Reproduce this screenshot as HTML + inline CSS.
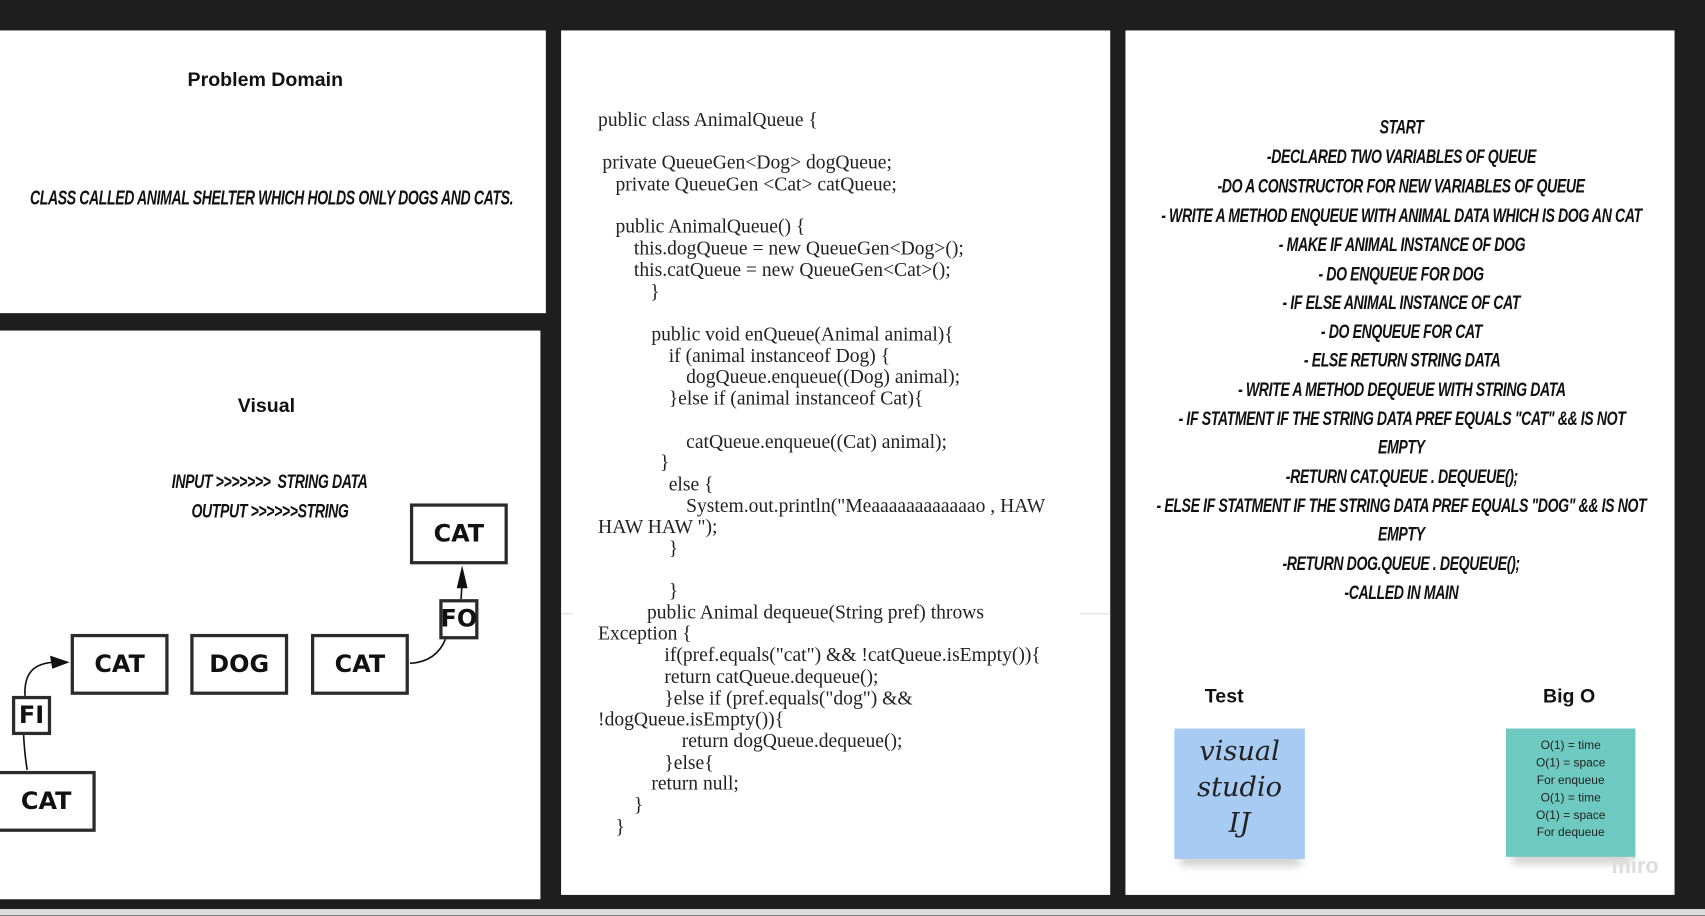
<!DOCTYPE html>
<html><head><meta charset="utf-8">
<style>
html,body{margin:0;padding:0;width:1705px;height:916px;overflow:hidden;background:#1e1e1e;}
#w{position:absolute;left:0;top:0;width:1568px;height:842px;transform:scale(1.08737);transform-origin:0 0;overflow:hidden;}
.p{position:absolute;background:#fff;}
.t{position:absolute;white-space:nowrap;}
.c{position:absolute;white-space:nowrap;font-family:"Liberation Serif",serif;font-size:18px;color:#222;line-height:20px;}
.h{font-family:"Liberation Sans",sans-serif;font-weight:bold;font-size:18px;color:#111;}
.k{font-family:"Liberation Sans",sans-serif;font-style:italic;font-weight:bold;color:#111;text-transform:uppercase;letter-spacing:-0.5px;white-space:nowrap;}
.k span{display:inline-block;transform:scaleX(.72);}
.b{position:absolute;border:3px solid #2b2b2b;box-sizing:border-box;background:#fff;display:flex;align-items:center;justify-content:center;font-family:"DejaVu Sans","Liberation Sans",sans-serif;font-weight:bold;font-size:22px;color:#111;}
.r{position:absolute;left:889px;width:800px;text-align:center;font-size:18px;line-height:20px;}
</style></head><body><div id="w">
<div class="p" style="left:0;top:28px;width:502px;height:260px"></div>
<div class="p" style="left:0;top:304px;width:497px;height:523px"></div>
<div class="p" style="left:516px;top:28px;width:505px;height:795px"></div>
<div class="p" style="left:1035px;top:28px;width:505px;height:795px"></div>
<div style="position:absolute;left:0;top:836px;width:1568px;height:6px;background:#ddd"></div>

<div class="t h" style="left:0;width:488px;text-align:center;top:63px">Problem Domain</div>
<div class="t k" style="left:-250px;width:1000px;text-align:center;top:172px;font-size:19px"><span style="transform:scaleX(.68)">class called Animal shelter which holds only dogs and cats.</span></div>
<div class="t h" style="left:0;width:490px;text-align:center;top:363px">Visual</div>
<div class="t k" style="left:-100px;width:696px;text-align:center;top:433px;font-size:18px"><span>Input &gt;&gt;&gt;&gt;&gt;&gt;&gt;&nbsp; String data</span></div>
<div class="t k" style="left:-100px;width:696px;text-align:center;top:460px;font-size:18px"><span>output &gt;&gt;&gt;&gt;&gt;&gt;String</span></div>

<svg style="position:absolute;left:0;top:0" width="1568" height="842">
<path d="M25 708 C22 690 20 660 22 640" stroke="#111" stroke-width="1.5" fill="none"/>
<path d="M23 640 C22 620 30 610 50 609" stroke="#111" stroke-width="1.5" fill="none"/>
<polygon points="64,609 46,603 48,615" fill="#111"/>
<path d="M377 610 C395 609 405 600 410 587" stroke="#111" stroke-width="1.5" fill="none"/>
<line x1="424" y1="551" x2="425" y2="535" stroke="#111" stroke-width="1.5"/>
<polygon points="425,520 420,541 430,541" fill="#111"/>
</svg>
<div class="b" style="left:377px;top:463px;width:90px;height:56px">CAT</div>
<div class="b" style="left:65px;top:583px;width:90px;height:56px">CAT</div>
<div class="b" style="left:175px;top:583px;width:90px;height:56px">DOG</div>
<div class="b" style="left:286px;top:583px;width:90px;height:56px">CAT</div>
<div class="b" style="left:404px;top:551px;width:36px;height:37px">FO</div>
<div class="b" style="left:11px;top:640px;width:36px;height:36px">FI</div>
<div class="b" style="left:-3px;top:709px;width:91px;height:56px">CAT</div>

<div style="position:absolute;left:516px;top:564px;width:11px;height:1px;background:#ddd"></div>
<div style="position:absolute;left:993px;top:564px;width:28px;height:1px;background:#ddd"></div>
<div class="c" style="left:550px;top:100px">public class AnimalQueue {</div>
<div class="c" style="left:554px;top:139px">private QueueGen&lt;Dog&gt; dogQueue;</div>
<div class="c" style="left:566px;top:159px">private QueueGen &lt;Cat&gt; catQueue;</div>
<div class="c" style="left:566px;top:198px">public AnimalQueue() {</div>
<div class="c" style="left:583px;top:218px">this.dogQueue = new QueueGen&lt;Dog&gt;();</div>
<div class="c" style="left:583px;top:238px">this.catQueue = new QueueGen&lt;Cat&gt;();</div>
<div class="c" style="left:598px;top:258px">}</div>
<div class="c" style="left:599px;top:297px">public void enQueue(Animal animal){</div>
<div class="c" style="left:615px;top:317px">if (animal instanceof Dog) {</div>
<div class="c" style="left:631px;top:336px">dogQueue.enqueue((Dog) animal);</div>
<div class="c" style="left:615px;top:356px">}else if (animal instanceof Cat){</div>
<div class="c" style="left:631px;top:396px">catQueue.enqueue((Cat) animal);</div>
<div class="c" style="left:607px;top:415px">}</div>
<div class="c" style="left:615px;top:435px">else {</div>
<div class="c" style="left:631px;top:455px">System.out.println("Meaaaaaaaaaaaao , HAW</div>
<div class="c" style="left:550px;top:474px">HAW HAW ");</div>
<div class="c" style="left:615px;top:494px">}</div>
<div class="c" style="left:615px;top:533px">}</div>
<div class="c" style="left:595px;top:553px">public Animal dequeue(String pref) throws</div>
<div class="c" style="left:550px;top:572px">Exception {</div>
<div class="c" style="left:611px;top:592px">if(pref.equals("cat") &amp;&amp; !catQueue.isEmpty()){</div>
<div class="c" style="left:611px;top:612px">return catQueue.dequeue();</div>
<div class="c" style="left:611px;top:632px">}else if (pref.equals("dog") &amp;&amp;</div>
<div class="c" style="left:550px;top:651px">!dogQueue.isEmpty()){</div>
<div class="c" style="left:627px;top:671px">return dogQueue.dequeue();</div>
<div class="c" style="left:611px;top:691px">}else{</div>
<div class="c" style="left:599px;top:710px">return null;</div>
<div class="c" style="left:583px;top:730px">}</div>
<div class="c" style="left:566px;top:750px">}</div>

<div class="r k" style="top:107px"><span>Start</span></div>
<div class="r k" style="top:134px"><span>-declared two variables of Queue</span></div>
<div class="r k" style="top:161px"><span>-do a constructor for new variables of queue</span></div>
<div class="r k" style="top:188px"><span>- write a method enqueue with animal data which is dog an cat</span></div>
<div class="r k" style="top:215px"><span>- make if animal instance of dog</span></div>
<div class="r k" style="top:242px"><span>- do enqueue for dog</span></div>
<div class="r k" style="top:268px"><span>- if else animal instance of cat</span></div>
<div class="r k" style="top:295px"><span>- do enqueue for cat</span></div>
<div class="r k" style="top:321px"><span>- else return string data</span></div>
<div class="r k" style="top:348px"><span>- write a method dequeue with string data</span></div>
<div class="r k" style="top:375px"><span>- if statment if the string data pref equals "cat" &amp;&amp; is not</span></div>
<div class="r k" style="top:401px"><span>empty</span></div>
<div class="r k" style="top:428px"><span>-return cat.queue . dequeue();</span></div>
<div class="r k" style="top:455px"><span>- else if statment if the string data pref equals "dog" &amp;&amp; is not</span></div>
<div class="r k" style="top:481px"><span>empty</span></div>
<div class="r k" style="top:508px"><span>-return dog.queue . dequeue();</span></div>
<div class="r k" style="top:535px"><span>-called in main</span></div>

<div class="t h" style="left:1108px;top:630px">Test</div>
<div class="t h" style="left:1419px;top:630px">Big O</div>
<div style="position:absolute;left:1086px;top:786px;width:110px;height:10px;background:#ccc;filter:blur(4px)"></div>
<div style="position:absolute;left:1080px;top:670px;width:120px;height:120px;background:#a7cbf2"></div>
<div class="t" style="left:1080px;width:120px;text-align:center;top:674px;font-family:'DejaVu Serif',serif;font-style:italic;font-size:25px;line-height:33px;color:#222">visual<br>studio<br>IJ</div>
<div style="position:absolute;left:1391px;top:784px;width:110px;height:10px;background:#ccc;filter:blur(4px)"></div>
<div style="position:absolute;left:1385px;top:670px;width:119px;height:118px;background:#6ecac1"></div>
<div class="t" style="left:1385px;width:119px;text-align:center;top:678px;font-family:'Liberation Sans',sans-serif;font-size:11px;line-height:16px;color:#222">O(1) = time<br>O(1) = space<br>For enqueue<br>O(1) = time<br>O(1) = space<br>For dequeue</div>
<div class="t" style="left:1482px;top:786px;font-family:'Liberation Sans',sans-serif;font-weight:bold;font-size:20px;color:#ddd">miro</div>
</div></body></html>
